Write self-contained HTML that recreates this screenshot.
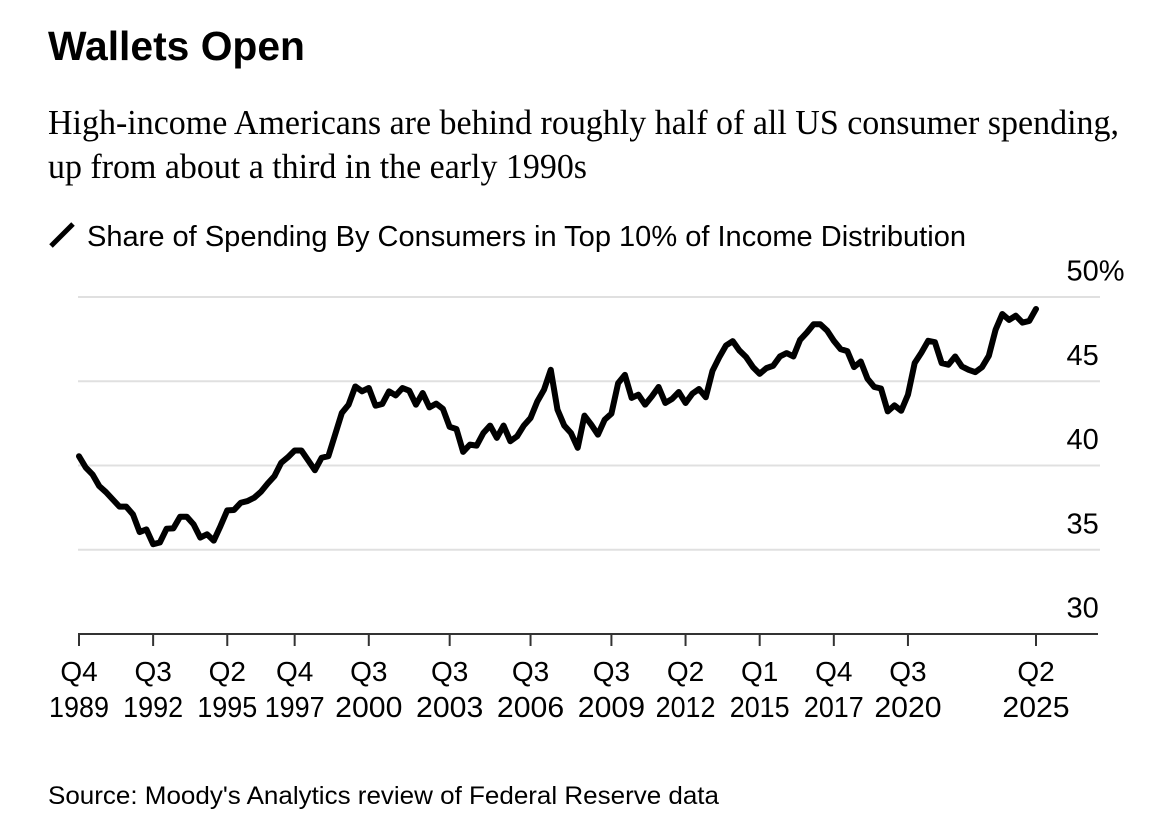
<!DOCTYPE html>
<html lang="en">
<head>
<meta charset="utf-8">
<title>Wallets Open</title>
<style>
html,body{margin:0;padding:0;background:#fff;width:1153px;height:823px;overflow:hidden}
svg{display:block}
text{font-family:"Liberation Sans",Arial,sans-serif;fill:#000}
.serif{font-family:"Liberation Serif","Times New Roman",serif}
</style>
</head>
<body>
<svg id="chart" xmlns="http://www.w3.org/2000/svg" width="1153" height="823" viewBox="0 0 1153 823">
  <rect width="1153" height="823" fill="#fff"/>
  <text x="48" y="60" font-size="41" font-weight="700" textLength="257" lengthAdjust="spacingAndGlyphs">Wallets Open</text>
  <text class="serif" x="48" y="134" font-size="34.5" textLength="1071" lengthAdjust="spacingAndGlyphs">High-income Americans are behind roughly half of all US consumer spending,</text>
  <text class="serif" x="48" y="178" font-size="34.5" textLength="539" lengthAdjust="spacingAndGlyphs">up from about a third in the early 1990s</text>
  <line x1="51" y1="246" x2="73" y2="224" stroke="#000" stroke-width="5"/>
  <text x="87" y="246" font-size="29" textLength="879" lengthAdjust="spacingAndGlyphs">Share of Spending By Consumers in Top 10% of Income Distribution</text>
  <g id="grid"></g>
  <g id="ylabels"></g>
  <line x1="78" y1="634" x2="1098" y2="634" stroke="#333" stroke-width="2"/>
  <g id="xticks"></g>
  <path id="series" fill="none" stroke="#000" stroke-width="6" stroke-linejoin="round" stroke-linecap="round"/>
  <text x="48" y="804" font-size="25.2" textLength="671" lengthAdjust="spacingAndGlyphs">Source: Moody's Analytics review of Federal Reserve data</text>
</svg>
<script>
// First observation is Q4 1989; one value per quarter through Q2 2025.
const startYear = 1989;
const startQuarter = 4;
const shareValues = [
  40.55,39.88,39.47,38.78,38.42,37.99,37.56,37.56,37.10,36.05,
  36.21,35.33,35.43,36.25,36.27,36.96,36.96,36.51,35.72,35.92,
  35.54,36.41,37.34,37.36,37.79,37.89,38.09,38.44,38.93,39.37,
  40.16,40.49,40.89,40.89,40.31,39.72,40.46,40.55,41.83,43.12,
  43.61,44.69,44.40,44.60,43.55,43.65,44.40,44.16,44.60,44.44,
  43.61,44.30,43.45,43.67,43.36,42.29,42.17,40.81,41.24,41.18,
  41.93,42.37,41.64,42.37,41.44,41.73,42.37,42.82,43.80,44.50,
  45.68,43.31,42.37,41.93,41.05,42.96,42.43,41.83,42.72,43.08,
  44.89,45.38,44.01,44.20,43.61,44.10,44.66,43.71,43.95,44.36,
  43.71,44.26,44.54,44.05,45.62,46.42,47.12,47.38,46.82,46.43,
  45.84,45.44,45.78,45.92,46.47,46.67,46.47,47.46,47.89,48.38,
  48.38,48.01,47.40,46.91,46.79,45.84,46.17,45.15,44.66,44.57,
  43.21,43.57,43.25,44.20,46.08,46.70,47.40,47.32,46.08,45.98,
  46.47,45.88,45.68,45.54,45.84,46.51,48.05,48.99,48.64,48.89,
  48.48,48.58,49.29
];
const xTickQuarters = ["Q4","Q3","Q2","Q4","Q3","Q3","Q3","Q3","Q2","Q1","Q4","Q3","Q2"];
const xTickYears = [1989,1992,1995,1997,2000,2003,2006,2009,2012,2015,2017,2020,2025];
const yTickValues = [50,45,40,35,30];
const yTickLabels = ["50%","45","40","35","30"];

const NS = "http://www.w3.org/2000/svg";
const xLeft = 79, xRight = 1036, yTop = 297, yBottom = 634;
const yMax = 50, yMin = 30;
function xIndex(i){ return xLeft + i * (xRight - xLeft) / 142; }
function quarterIndex(year, q){ return (year - startYear) * 4 + (q - startQuarter); }
function yScale(v){ return yTop + (yMax - v) * (yBottom - yTop) / (yMax - yMin); }
// The reference face has a narrow "1"; fit each year label to that width.
function yearWidth(s){
  let w = 0;
  for (const c of s) { w += c === "1" ? 9.5 : 16.8; }
  return w;
}

const grid = document.getElementById("grid");
const yLabels = document.getElementById("ylabels");
yTickValues.forEach(function(v, k){
  const y = yScale(v);
  if (v > yMin) {
    const ln = document.createElementNS(NS, "line");
    
    
    ln.setAttribute("x1", 78);
    ln.setAttribute("x2", 1100);
    ln.setAttribute("y1", y);
    ln.setAttribute("y2", y);
    ln.setAttribute("stroke", "#e0e0e0");
    ln.setAttribute("stroke-width", 2);
    grid.appendChild(ln);
  }
  const t = document.createElementNS(NS, "text");
  
  
  t.setAttribute("x", 1066.5);
  t.setAttribute("y", y - 16.5);
  t.setAttribute("font-size", 29);
  t.textContent = yTickLabels[k];
  yLabels.appendChild(t);
});

const xTicks = document.getElementById("xticks");
xTickQuarters.forEach(function(qLabel, k){
  const yr = xTickYears[k];
  const x = xIndex(quarterIndex(yr, Number(qLabel.slice(1))));
  const tick = document.createElementNS(NS, "line");
  
  
  tick.setAttribute("x1", x);
  tick.setAttribute("x2", x);
  tick.setAttribute("y1", 634);
  tick.setAttribute("y2", 646);
  tick.setAttribute("stroke", "#333");
  tick.setAttribute("stroke-width", 2);
  xTicks.appendChild(tick);
  const q = document.createElementNS(NS, "text");
  
  
  q.setAttribute("x", x);
  q.setAttribute("y", 681);
  q.setAttribute("font-size", 28);
  q.setAttribute("text-anchor", "middle");
  q.textContent = qLabel;
  xTicks.appendChild(q);
  const t = document.createElementNS(NS, "text");
  
  
  t.setAttribute("x", x);
  t.setAttribute("y", 717);
  t.setAttribute("font-size", 29);
  t.setAttribute("text-anchor", "middle");
  t.setAttribute("textLength", yearWidth(String(yr)));
  t.setAttribute("lengthAdjust", "spacingAndGlyphs");
  t.textContent = String(yr);
  xTicks.appendChild(t);
});

let d = "";
shareValues.forEach(function(v, i){
  d += (i ? "L" : "M") + xIndex(i).toFixed(2) + " " + yScale(v).toFixed(2);
});
document.getElementById("series").setAttribute("d", d);
</script>
</body>
</html>
